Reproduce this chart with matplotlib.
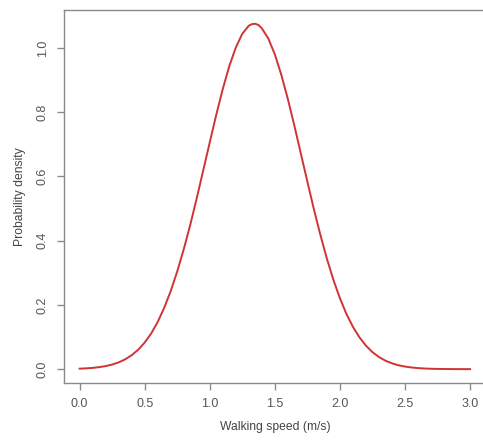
import matplotlib
matplotlib.use('Agg')
import matplotlib.pyplot as plt

# walking speed (m/s) and estimated probability density
speed = [0.00, 0.05, 0.10, 0.15, 0.20, 0.25, 0.30, 0.35, 0.40, 0.45,
         0.50, 0.55, 0.60, 0.65, 0.70, 0.75, 0.80, 0.85, 0.90, 0.95,
         1.00, 1.05, 1.10, 1.15, 1.20, 1.25, 1.30, 1.325, 1.35, 1.375, 1.40, 1.45,
         1.50, 1.55, 1.60, 1.65, 1.70, 1.75, 1.80, 1.85, 1.90, 1.95,
         2.00, 2.05, 2.10, 2.15, 2.20, 2.25, 2.30, 2.35, 2.40, 2.45,
         2.50, 2.55, 2.60, 2.65, 2.70, 2.75, 2.80, 2.90, 3.00]
density = [0.0016, 0.0026, 0.0040, 0.0063, 0.0096, 0.0144, 0.0211, 0.0306, 0.0434, 0.0605,
           0.0829, 0.111, 0.147, 0.191, 0.243, 0.304, 0.373, 0.449, 0.532, 0.619,
           0.706, 0.792, 0.872, 0.943, 1.001, 1.044, 1.069, 1.074, 1.075, 1.071, 1.061, 1.029,
           0.980, 0.916, 0.841, 0.758, 0.671, 0.584, 0.498, 0.418, 0.344, 0.278,
           0.221, 0.172, 0.132, 0.0992, 0.0732, 0.0531, 0.0378, 0.0264, 0.0182, 0.0122,
           0.0081, 0.0053, 0.0034, 0.0021, 0.0013, 0.0008, 0.0005, 0.0002, 0.0001]
xticks = [0.0, 0.5, 1.0, 1.5, 2.0, 2.5, 3.0]
yticks = [0.0, 0.2, 0.4, 0.6, 0.8, 1.0]

plt.rcParams['font.family'] = ['Liberation Sans', 'DejaVu Sans']

fig = plt.figure(figsize=(4.83, 4.47), dpi=100)
ax = fig.add_axes([0.1325, 0.1432, 0.873, 0.8345])
ax.plot(speed, density, color='#d13333', lw=1.4)

ax.set_xlim(-0.12, 3.12)
ax.set_ylim(-0.043, 1.118)
ax.set_xticks(xticks)
ax.set_xticklabels([f'{t:.1f}' for t in xticks])
ax.set_yticks(yticks)
ax.set_yticklabels([f'{t:.1f}' for t in yticks], rotation=90, va='center')

for s in ax.spines.values():
    s.set_color('#8a8a8a')
    s.set_linewidth(1.0)
ax.spines['right'].set_color('#dddddd')
ax.tick_params(direction='out', length=5, width=1.0, color='#8a8a8a',
               labelcolor='#555555', labelsize=9, pad=6)

ax.set_xlabel('Walking speed (m/s)', fontsize=8.7, color='#444444', labelpad=8)
ax.set_ylabel('Probability density', fontsize=8.7, color='#444444', labelpad=8)

plt.savefig('out.png', dpi=100)
